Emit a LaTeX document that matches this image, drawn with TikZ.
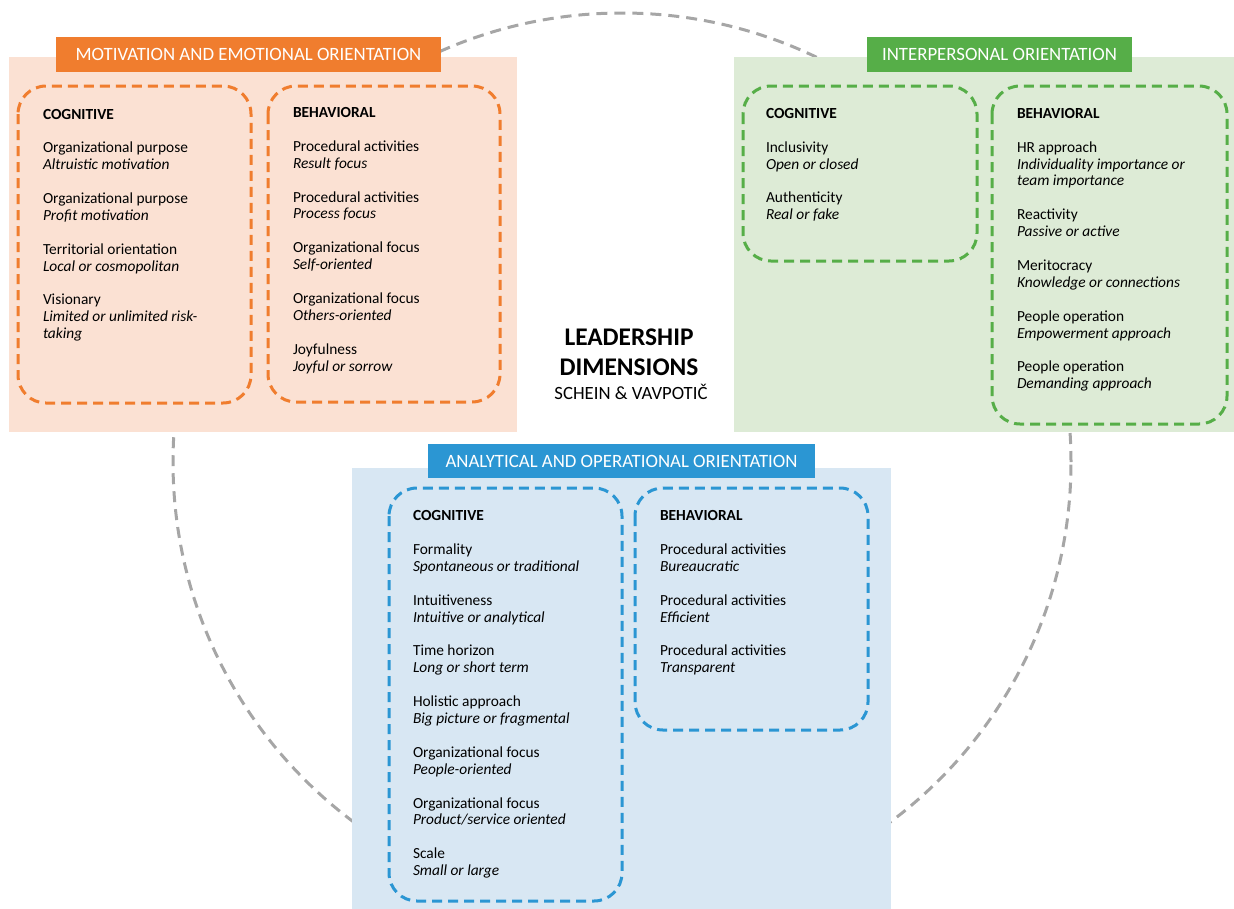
\documentclass[tikz,border=0pt]{standalone}
\usepackage{fontspec}
\setmainfont{Carlito}
\definecolor{orangeH}{HTML}{F07D2E}
\definecolor{orangeBG}{HTML}{FBE1D3}
\definecolor{greenH}{HTML}{56AE48}
\definecolor{greenBG}{HTML}{DDEBD6}
\definecolor{blueH}{HTML}{2B96D3}
\definecolor{blueBG}{HTML}{D8E7F3}
\definecolor{circ}{HTML}{A6A6A6}
\tikzset{
 bgbox/.style={draw=none, inner sep=0, outer sep=0, anchor=north west, rectangle},
 hdr/.style={inner sep=0, outer sep=0, anchor=north west, rectangle, text=white, font=\fontsize{18.8}{22}\selectfont, text height=13pt, text depth=1pt},
 dbox/.style={line width=3pt, dash pattern=on 10pt off 6pt, rounded corners=28pt},
 txt/.style={anchor=north west, align=left, inner sep=0, outer sep=0, font=\fontsize{15.4}{16.9}\selectfont},
 ring/.style={draw=circ, line width=3pt, dash pattern=on 11pt off 7pt},
}
\newcommand{\gp}{\\[16.9pt]}
\newcommand{\fl}{\rule{0pt}{12pt}}
\begin{document}
\begin{tikzpicture}[x=1pt,y=-1pt]
\useasboundingbox (0,0) rectangle (1234,908);
% circle
\coordinate (ctr) at (622,462);
\draw[ring] (ctr) circle[radius=449pt];
% backgrounds
\node[bgbox, fill=orangeBG, minimum width=508pt, minimum height=375pt] (obg) at (9,57) {};
\node[bgbox, fill=greenBG, minimum width=500pt, minimum height=375pt] (gbg) at (734,57) {};
\node[bgbox, fill=blueBG, minimum width=539pt, minimum height=446pt] (bbg) at (352,468) {};
% headers
\node[hdr, fill=orangeH, minimum width=385pt, minimum height=35pt] (oh) at (56,37) {MOTIVATION AND EMOTIONAL ORIENTATION};
\node[hdr, fill=greenH, minimum width=265pt, minimum height=35pt] (gh) at (867,37) {INTERPERSONAL ORIENTATION};
\node[hdr, fill=blueH, minimum width=387pt, minimum height=34pt] (bh) at (428,444) {ANALYTICAL AND OPERATIONAL ORIENTATION};
% dashed boxes
\draw[dbox, orangeH] (18,86) rectangle (251,403);
\draw[dbox, orangeH] (268,86) rectangle (500,402);
\draw[dbox, greenH] (743,86) rectangle (977,261);
\draw[dbox, greenH] (992,86) rectangle (1227,424);
\draw[dbox, blueH] (389,488) rectangle (622,901);
\draw[dbox, blueH] (635,488) rectangle (868,730);
% texts
\node[txt] (oct) at (43,107) {\fl\textbf{COGNITIVE}\gp
Organizational purpose\\\textit{Altruistic motivation}\gp
Organizational purpose\\\textit{Profit motivation}\gp
Territorial orientation\\\textit{Local or cosmopolitan}\gp
Visionary\\\textit{Limited or unlimited risk-}\\\textit{taking}};
\node[txt] (obt) at (293,105.5) {\fl\textbf{BEHAVIORAL}\gp
Procedural activities\\\textit{Result focus}\gp
Procedural activities\\\textit{Process focus}\gp
Organizational focus\\\textit{Self-oriented}\gp
Organizational focus\\\textit{Others-oriented}\gp
Joyfulness\\\textit{Joyful or sorrow}};
\node[txt] (gct) at (766,106.3) {\fl\textbf{COGNITIVE}\gp
Inclusivity\\\textit{Open or closed}\gp
Authenticity\\\textit{Real or fake}};
\node[txt] (gbt) at (1017,106.3) {\fl\textbf{BEHAVIORAL}\gp
HR approach\\\textit{Individuality importance or}\\\textit{team importance}\gp
Reactivity\\\textit{Passive or active}\gp
Meritocracy\\\textit{Knowledge or connections}\gp
People operation\\\textit{Empowerment approach}\gp
People operation\\\textit{Demanding approach}};
\node[txt] (bct) at (413,508.7) {\fl\textbf{COGNITIVE}\gp
Formality\\\textit{Spontaneous or traditional}\gp
Intuitiveness\\\textit{Intuitive or analytical}\gp
Time horizon\\\textit{Long or short term}\gp
Holistic approach\\\textit{Big picture or fragmental}\gp
Organizational focus\\\textit{People-oriented}\gp
Organizational focus\\\textit{Product/service oriented}\gp
Scale\\\textit{Small or large}};
\node[txt] (bbt) at (660,508.7) {\fl\textbf{BEHAVIORAL}\gp
Procedural activities\\\textit{Bureaucratic}\gp
Procedural activities\\\textit{Efficient}\gp
Procedural activities\\\textit{Transparent}};
% title
\node[anchor=north, align=center, inner sep=0, font=\fontsize{25.4}{29.3}\selectfont\bfseries] (title) at (629,327.7) {\rule{0pt}{18pt}LEADERSHIP\\DIMENSIONS};
\node[anchor=base, inner sep=0, font=\fontsize{18.7}{22}\selectfont] (sub) at (631,399) {SCHEIN \& VAVPOTIČ};
\end{tikzpicture}
\end{document}
